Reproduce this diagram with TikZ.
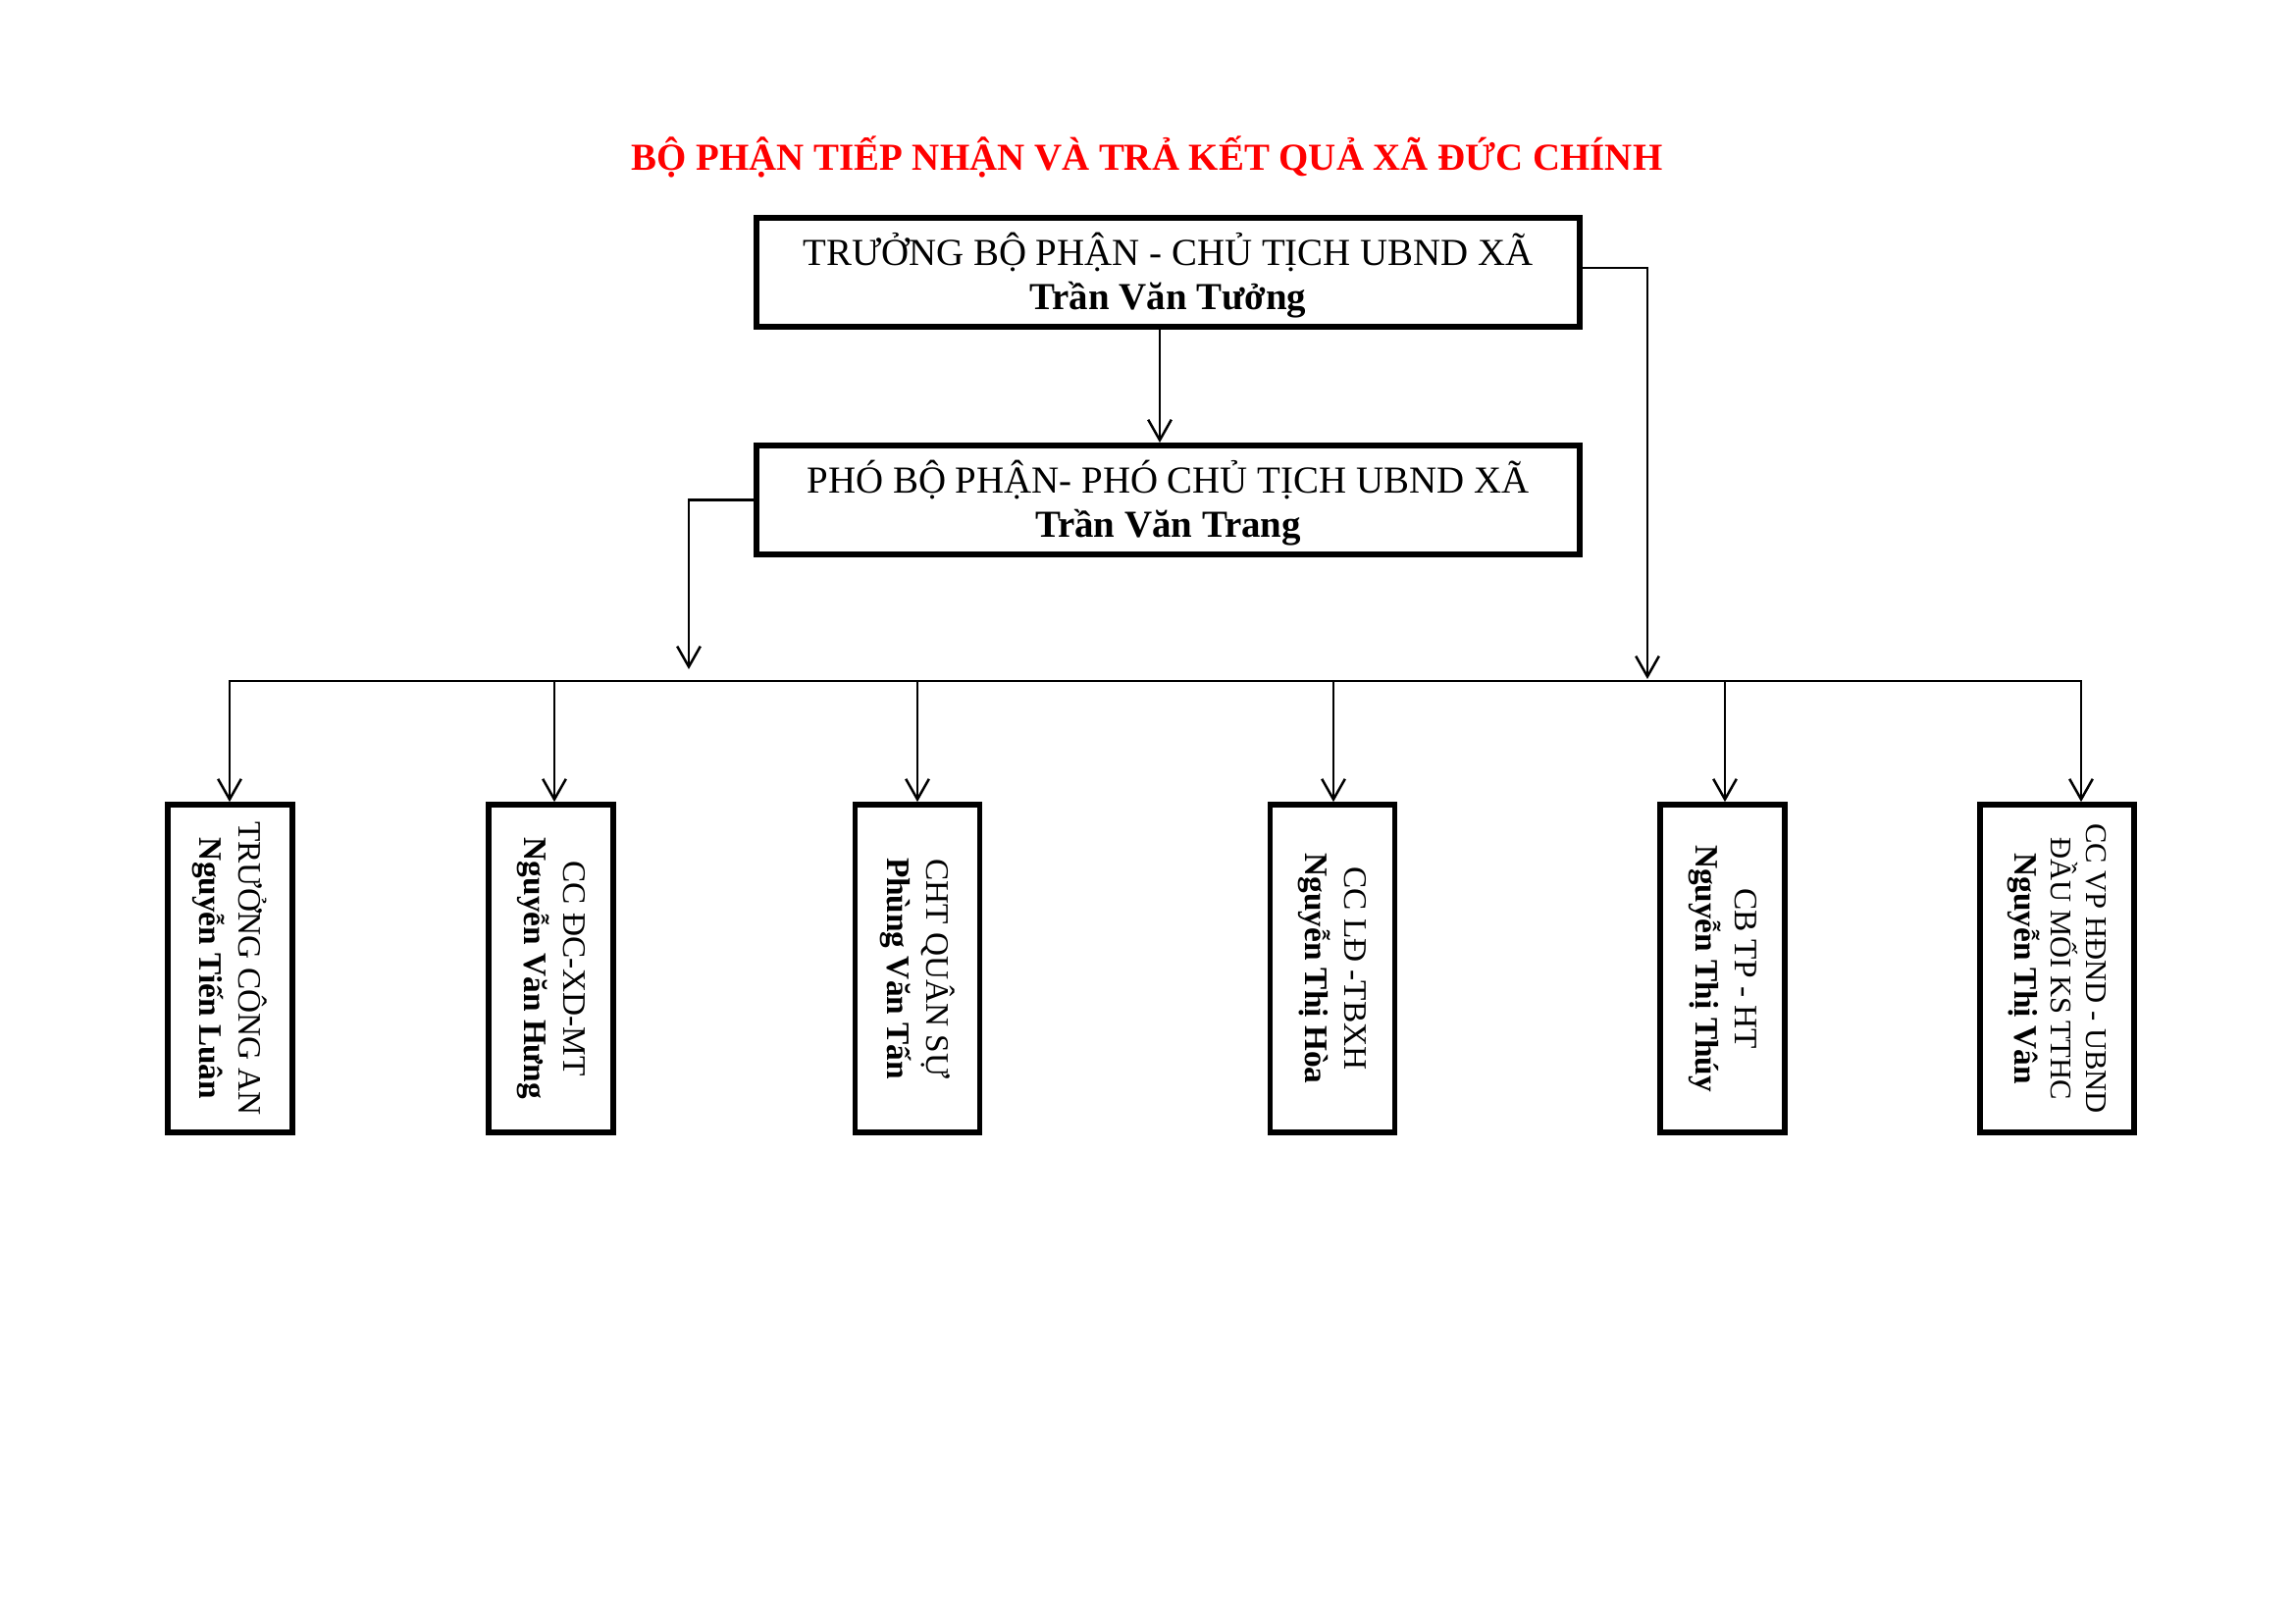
\documentclass[tikz,border=0pt]{standalone}
\usepackage{fontspec}
\setmainfont{Liberation Serif}
\usetikzlibrary{arrows.meta}
\begin{document}
\begin{tikzpicture}[x=0.36pt,y=-0.36pt,
  headbox/.style={draw, line width=2.1pt, inner sep=0pt, minimum width=302pt, minimum height=40pt},
  headtext/.style={align=center, inner sep=0pt, font=\fontsize{14}{16.2}\selectfont, yshift=-1pt},
  staffbox/.style={draw, line width=2.1pt, inner sep=0pt, minimum width=45.7pt, minimum height=120.2pt},
  stafftext/.style={rotate=-90, align=center, inner sep=0pt, font=\fontsize{12}{14.4}\selectfont},
  link/.style={line width=0.8pt},
  tipV/.tip={Straight Barb[length=7.5pt,width=8.5pt,line width=0.9pt]},
  arr/.style={link, -tipV}
]
\useasboundingbox (0,0) rectangle (2339,1654);

% title
\node[text=red, font=\fontsize{14}{16}\selectfont\bfseries, anchor=base, inner sep=0pt] (title) at (1169,173) {BỘ PHẬN TIẾP NHẬN VÀ TRẢ KẾT QUẢ XÃ ĐỨC CHÍNH};

% head boxes
\node[headbox] (chief) at (1190.5,277.5) {};
\node[headtext] (chieft) at (chief) {TRƯỞNG BỘ PHẬN - CHỦ TỊCH UBND XÃ\\\textbf{Trần Văn Tưởng}};
\node[headbox] (deputy) at (1190.5,509.5) {};
\node[headtext] (deputyt) at (deputy) {PHÓ BỘ PHẬN- PHÓ CHỦ TỊCH UBND XÃ\\\textbf{Trần Văn Trang}};

% staff boxes
\node[staffbox] (s1) at (234.5,987) {};
\node[stafftext] (s1t) at (s1) {TRƯỞNG CÔNG AN\\\textbf{Nguyễn Tiến Luân}};
\node[staffbox] (s2) at (561.5,987) {};
\node[stafftext] (s2t) at (s2) {CC ĐC-XD-MT\\\textbf{Nguyễn Văn Hưng}};
\node[staffbox] (s3) at (935,987) {};
\node[stafftext] (s3t) at (s3) {CHT QUÂN SỰ\\\textbf{Phùng Văn Tấn}};
\node[staffbox] (s4) at (1358,987) {};
\node[stafftext] (s4t) at (s4) {CC LĐ -TBXH\\\textbf{Nguyễn Thị Hòa}};
\node[staffbox] (s5) at (1755.5,987) {};
\node[stafftext] (s5t) at (s5) {CB TP - HT\\\textbf{Nguyễn Thị Thúy}};
\node[staffbox, minimum width=56.5pt] (s6) at (2096.5,987) {};
\node[stafftext, font=\fontsize{11}{13}\selectfont] (s6t) at (s6) {CC VP HĐND - UBND\\ĐẦU MỐI KS TTHC\\\textbf{\fontsize{12}{13}\selectfont Nguyễn Thị Vân}};

% connectors between head boxes
\coordinate (cx) at (1182,0);
\draw[arr] (chief.south -| cx) -- (deputy.north -| cx);
\coordinate (lb) at (702,682);
\draw[arr] (deputy.west) -| (lb);
\coordinate (rb) at (1679,692);
\draw[arr] ([yshift=1.6pt]chief.east) -| (rb);

% bus and drops
\coordinate (d1) at (234,694);
\coordinate (d2) at (565,694);
\coordinate (d3) at (935,694);
\coordinate (d4) at (1359,694);
\coordinate (d5) at (1758,694);
\coordinate (d6) at (2121,694);
\draw[link, tipV-tipV, line join=miter] (d1 |- s1.north) -- (d1) -- (d6) -- (d6 |- s6.north);
\draw[arr] (d2) -- (d2 |- s2.north);
\draw[arr] (d3) -- (d3 |- s3.north);
\draw[arr] (d4) -- (d4 |- s4.north);
\draw[arr] (d5) -- (d5 |- s5.north);
\end{tikzpicture}
\end{document}
